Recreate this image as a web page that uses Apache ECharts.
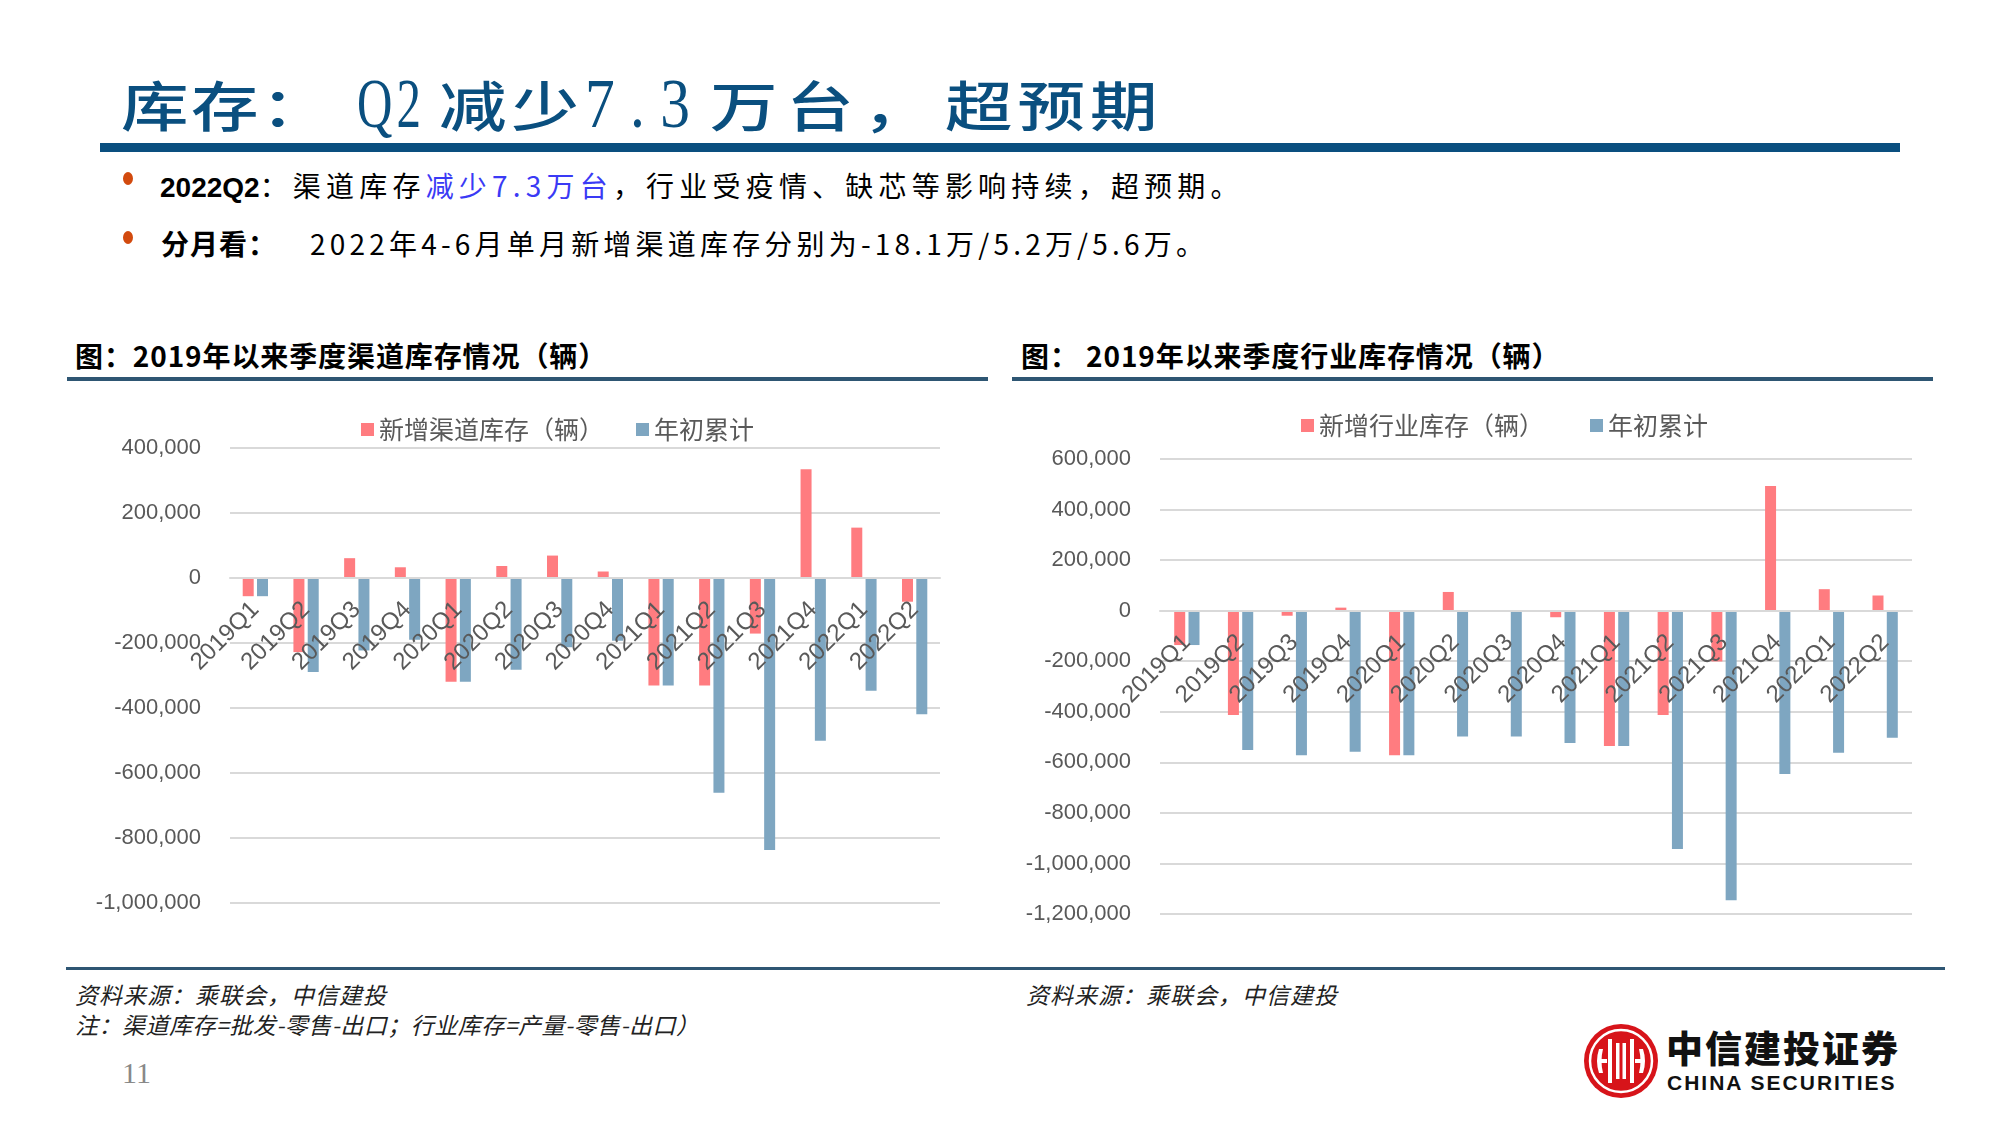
<!DOCTYPE html>
<html>
<head>
<meta charset="utf-8">
<script src="https://cdn.jsdelivr.net/npm/echarts@6/dist/echarts.min.js"></script>
<style>
html,body{margin:0;padding:0;background:#fff;}
body{width:2000px;height:1125px;position:relative;overflow:hidden;font-family:"Noto Sans CJK SC","Noto Sans",sans-serif;}
.t{position:absolute;white-space:nowrap;line-height:1;}
.seg{display:inline-block;}
.sx{display:inline-block;transform:scaleX(1.25);transform-origin:0 50%;letter-spacing:4px;}
.lat{font-family:"Liberation Serif",serif;font-weight:normal;font-size:70px;display:inline-block;transform:scaleX(0.7);transform-origin:0 50%;}
.bar{position:absolute;}
.chart{position:absolute;}
</style>
</head>
<body>
<!-- title -->
<div class="t" style="left:121px;top:72px;font-size:54px;line-height:64px;color:#0A4F7F;font-weight:500;">
  <span class="seg" style="width:236px"><span class="sx" style="letter-spacing:2px">库存：</span></span><span class="seg" style="width:82px"><span class="lat" style="letter-spacing:6px">Q2</span></span><span class="seg" style="width:146px"><span class="sx">减少</span></span><span class="seg" style="width:125px"><span class="lat" style="transform:scaleX(0.85);letter-spacing:18px">7.3</span></span><span class="seg" style="width:235px"><span class="sx" style="letter-spacing:7px">万台，</span></span><span class="seg"><span class="sx">超预期</span></span>
</div>
<div class="bar" style="left:100px;top:143px;width:1800px;height:9px;background:#0A4F7F;"></div>

<!-- bullets -->
<div class="bar" style="left:123px;top:172px;width:10px;height:13px;border-radius:50%;background:#D24A0E;"></div>
<div class="t" style="left:160px;top:171px;font-size:28px;color:#000;letter-spacing:5.2px;">
  <b style="font-family:'Liberation Sans Narrow','Liberation Sans',sans-serif;letter-spacing:0">2022Q2</b>：渠道库存<span style="color:#3A3AF5">减少7.3万台</span>，行业受疫情、缺芯等影响持续，超预期。
</div>
<div class="bar" style="left:123px;top:231px;width:10px;height:13px;border-radius:50%;background:#D24A0E;"></div>
<div class="t" style="left:161px;top:229px;font-size:28px;color:#000;font-weight:700;letter-spacing:1px;">分月看：</div>
<div class="t" style="left:310px;top:229px;font-size:28px;color:#000;letter-spacing:4.2px;">2022年4-6月单月新增渠道库存分别为-18.1万/5.2万/5.6万。</div>

<!-- chart headers -->
<div class="t" style="left:75px;top:341px;font-size:28px;font-weight:700;color:#000;letter-spacing:0.9px;">图：2019年以来季度渠道库存情况（辆）</div>
<div class="bar" style="left:67px;top:377px;width:921px;height:4px;background:#2E5673;"></div>
<div class="t" style="left:1021px;top:341px;font-size:28px;font-weight:700;color:#000;letter-spacing:0.9px;">图：&nbsp;2019年以来季度行业库存情况（辆）</div>
<div class="bar" style="left:1012px;top:377px;width:921px;height:4px;background:#2E5673;"></div>

<div id="c1" class="chart" style="left:0px;top:400px;width:1000px;height:560px;"></div>
<div id="c2" class="chart" style="left:1000px;top:400px;width:1000px;height:560px;"></div>

<!-- footer -->
<div class="bar" style="left:66px;top:967px;width:1879px;height:3px;background:#2E5673;"></div>
<div class="t" style="left:75px;top:983px;font-size:23px;font-style:italic;color:#222;letter-spacing:1px;">资料来源：乘联会，中信建投</div>
<div class="t" style="left:75px;top:1013px;font-size:23px;font-style:italic;color:#222;letter-spacing:0.5px;">注：渠道库存=批发-零售-出口；行业库存=产量-零售-出口）</div>
<div class="t" style="left:1026px;top:983px;font-size:23px;font-style:italic;color:#222;letter-spacing:1px;">资料来源：乘联会，中信建投</div>
<div class="t" style="left:122px;top:1058px;font-size:30px;color:#888;font-family:'Liberation Serif',serif;">11</div>

<!-- logo -->
<svg class="chart" style="left:1583px;top:1023px;" width="76" height="76" viewBox="0 0 76 76">
  <circle cx="38" cy="38" r="37" fill="#D7141A"/>
  <circle cx="38" cy="38" r="31" fill="none" stroke="#fff" stroke-width="2.5"/>
  <path d="M16 26 Q12 38 16 50 L20 50 Q17 38 20 26 Z" fill="#fff"/>
  <path d="M60 26 Q64 38 60 50 L56 50 Q59 38 56 26 Z" fill="#fff"/>
  <rect x="25" y="16" width="4" height="44" fill="#fff"/>
  <rect x="47" y="16" width="4" height="44" fill="#fff"/>
  <rect x="33" y="20" width="3.5" height="36" fill="#fff"/>
  <rect x="39.5" y="20" width="3.5" height="36" fill="#fff"/>
  <rect x="16" y="36" width="8" height="4" fill="#fff"/>
  <rect x="52" y="36" width="8" height="4" fill="#fff"/>
</svg>
<div class="t" style="left:1666px;top:1029px;font-size:37px;font-weight:900;color:#111;letter-spacing:2px;">中信建投证券</div>
<div class="t" style="left:1667px;top:1072px;font-size:21px;font-weight:700;color:#111;font-family:'Liberation Sans',Arial,sans-serif;letter-spacing:2px;">CHINA SECURITIES</div>

<script>
const quarters = ['2019Q1','2019Q2','2019Q3','2019Q4','2020Q1','2020Q2','2020Q3','2020Q4','2021Q1','2021Q2','2021Q3','2021Q4','2022Q1','2022Q2'];
// 渠道库存
const channelNew = [-56000,-228000,61000,33000,-319000,37000,69000,20000,-331000,-331000,-171000,335000,155000,-73000];
const channelCum = [-56000,-289000,-223000,-190000,-319000,-282000,-213000,-193000,-331000,-661000,-837000,-501000,-347000,-419000];
// 行业库存
const industryNew = [-136000,-413000,-20000,12000,-572000,74000,2000,-26000,-535000,-413000,-201000,493000,85000,60000];
const industryCum = [-136000,-551000,-572000,-558000,-572000,-498000,-498000,-524000,-535000,-943000,-1146000,-646000,-562000,-503000];
const leftTicks = {min:-1000000, max:400000, interval:200000};
const rightTicks = {min:-1200000, max:600000, interval:200000};

const RED = '#FF7C80', BLUE = '#7EA6C1', GRID = '#D9D9D9', TXT = '#595959';

function makeOption(newName, newData, cumData, ticks, grid, legendLeft, legendTop, legendGap){
  // place the category axis on the zero line of the value axis
  const zeroOffset = -grid.height * (0 - ticks.min) / (ticks.max - ticks.min);
  return {
    animation:false,
    legend:{
      left:legendLeft, top:legendTop, icon:'rect', itemWidth:13, itemHeight:13, itemGap:legendGap,
      textStyle:{fontSize:25, color:TXT, fontFamily:'"Noto Sans CJK SC",sans-serif'},
      data:[newName,'年初累计']
    },
    grid:Object.assign({containLabel:false, outerBoundsMode:'none'}, grid),
    xAxis:{
      type:'category', data:quarters, position:'bottom', offset:zeroOffset, z:10,
      axisLine:{onZero:false, lineStyle:{color:GRID, width:2}},
      axisTick:{show:false},
      axisLabel:{interval:0, rotate:45, margin:28, fontSize:24, color:TXT, fontFamily:'"Liberation Sans",Arial,sans-serif'}
    },
    yAxis:{
      type:'value', min:ticks.min, max:ticks.max, interval:ticks.interval,
      axisLine:{show:false}, axisTick:{show:false},
      splitLine:{lineStyle:{color:GRID, width:2}},
      axisLabel:{fontSize:22, color:TXT, margin:29, fontFamily:'"Liberation Sans",Arial,sans-serif',
        formatter:v=>v.toLocaleString('en-US')}
    },
    series:[
      {name:newName, type:'bar', data:newData, barWidth:11, barGap:'30%', itemStyle:{color:RED}},
      {name:'年初累计', type:'bar', data:cumData, barWidth:11, barGap:'30%', itemStyle:{color:BLUE}}
    ]
  };
}

const c1 = echarts.init(document.getElementById('c1'));
c1.setOption(makeOption('新增渠道库存（辆）', channelNew, channelCum, leftTicks,
  {left:230, width:710, top:48, height:455}, 356, 12, 32));
const c2 = echarts.init(document.getElementById('c2'));
c2.setOption(makeOption('新增行业库存（辆）', industryNew, industryCum, rightTicks,
  {left:160, width:752, top:59, height:455}, 296, 8, 46));
</script>
</body>
</html>
